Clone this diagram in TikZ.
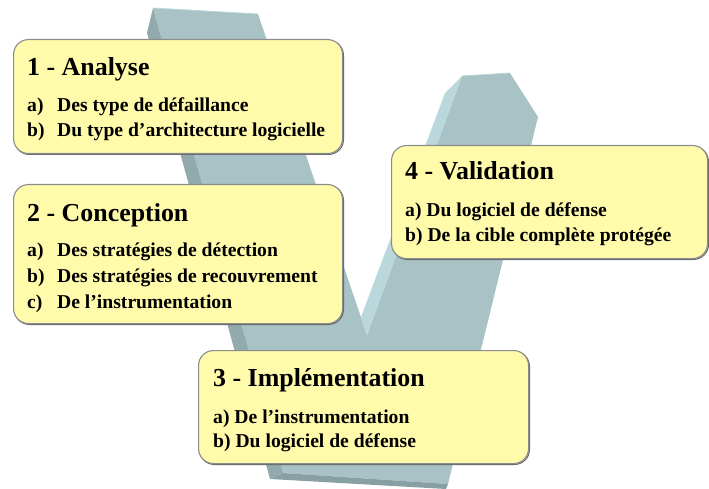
\documentclass[tikz,border=0pt]{standalone}
\usepackage{fontspec}
\setmainfont{Liberation Serif}
\definecolor{vmain}{RGB}{168,194,197}
\definecolor{vdark}{RGB}{146,170,174}
\definecolor{vlight}{RGB}{186,216,219}
\definecolor{vbottom}{RGB}{136,160,164}
\definecolor{boxfill}{RGB}{255,251,171}
\definecolor{boxline}{RGB}{140,140,140}
\definecolor{boxshadow}{RGB}{105,105,105}
\tikzset{
  box/.style={anchor=north west, rounded corners=15bp, fill=boxfill, draw=boxline, line width=1.1bp, inner sep=0pt,
    preaction={draw=boxshadow, line width=1.1bp, transform canvas={shift={(0.9bp,-0.9bp)}}}},
  ttl/.style={anchor=base west, inner sep=0pt, font=\bfseries\fontsize{26}{27}\selectfont},
  itm/.style={anchor=base west, inner sep=0pt, font=\bfseries\fontsize{19.7}{20}\selectfont}
}
\begin{document}
\begin{tikzpicture}[x=1bp,y=-1bp]
\useasboundingbox (0,0) rectangle (709,489);
% V shape
\fill[vmain] (153,8) -- (258,14) -- (367,335) -- (462,76) -- (510,73) -- (538,117) -- (448,484) -- (283,473) -- cycle;
\fill[vdark] (153,8) -- (147,33) -- (270,479) -- (283,473) -- cycle;
\fill[vlight] (445,93) -- (462,76) -- (367,335) -- (361,317) -- cycle;
\fill[vbottom] (270,479) -- (283,473) -- (448,484) -- (446,489) -- cycle;
\draw[vlight, line width=0.8bp] (153,8) -- (258,14);
\draw[vlight, line width=0.8bp] (462,76) -- (510,73);
% boxes
\node[box, minimum width=329bp, minimum height=114bp] (b1) at (13,39) {};
\node[box, minimum width=329bp, minimum height=139bp] (b2) at (13,184) {};
\node[box, minimum width=330bp, minimum height=113bp] (b3) at (198,350) {};
\node[box, minimum width=316bp, minimum height=113bp] (b4) at (391,145) {};
% box 1
\node[ttl] (t1) at (27,76) {1 - Analyse};
\node[itm] (l1a) at (27,112) {a)};
\node[itm] (x1a) at (57,112) {Des type de défaillance};
\node[itm] (l1b) at (27,137) {b)};
\node[itm] (x1b) at (57,137) {Du type d’architecture logicielle};
% box 2
\node[ttl] (t2) at (27,222) {2 - Conception};
\node[itm] (l2a) at (27,257) {a)};
\node[itm] (x2a) at (57,257) {Des stratégies de détection};
\node[itm] (l2b) at (27,283) {b)};
\node[itm] (x2b) at (57,283) {Des stratégies de recouvrement};
\node[itm] (l2c) at (27,308) {c)};
\node[itm] (x2c) at (57,308) {De l’instrumentation};
% box 3
\node[ttl] (t3) at (213,386) {3 - Implémentation};
\node[itm] (x3a) at (213,423) {a) De l’instrumentation};
\node[itm] (x3b) at (213,447) {b) Du logiciel de défense};
% box 4
\node[ttl] (t4) at (405,180) {4 - Validation};
\node[itm] (x4a) at (405,217) {a) Du logiciel de défense};
\node[itm] (x4b) at (405,242) {b) De la cible complète protégée};
\end{tikzpicture}
\end{document}
